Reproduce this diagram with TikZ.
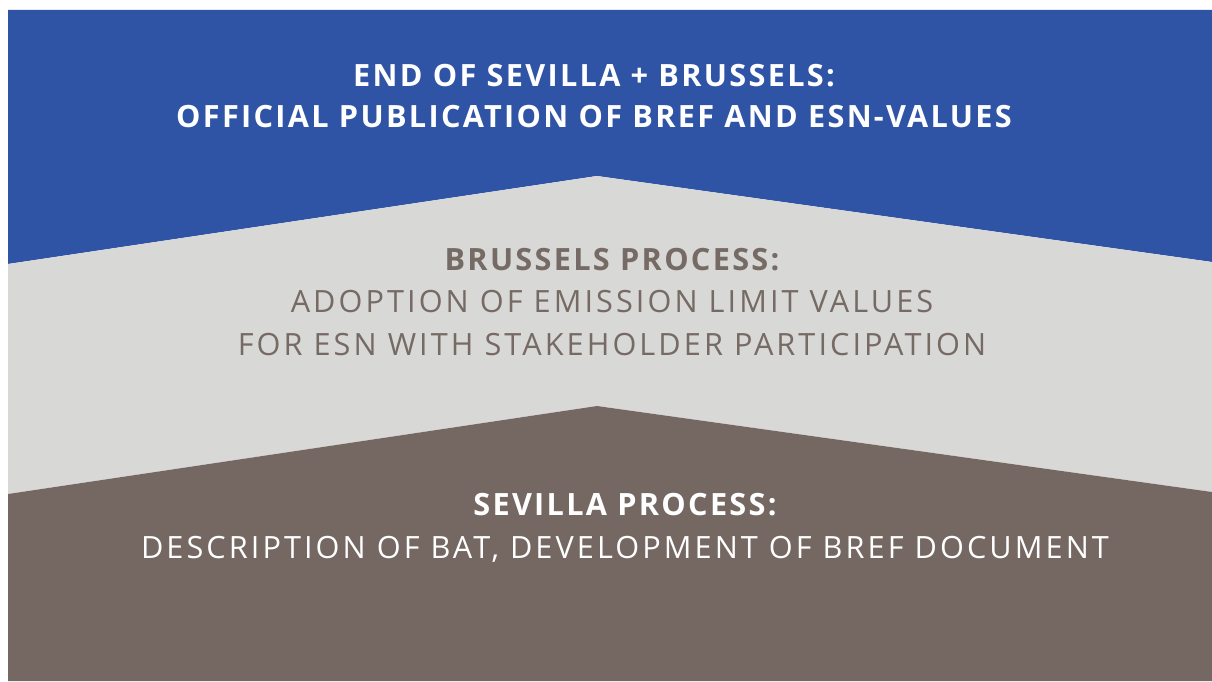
\documentclass[tikz,border=0pt]{standalone}
\usepackage{fontspec}
\setmainfont{Open Sans}[LetterSpace=10,BoldFeatures={LetterSpace=7.5}]
\definecolor{topblue}{HTML}{2F54A5}
\definecolor{midgray}{HTML}{D8D8D6}
\definecolor{lowbrown}{HTML}{756863}
\definecolor{graytext}{HTML}{766A65}
\begin{document}
\begin{tikzpicture}[x=0.75pt,y=-0.75pt,
  lbl/.style={align=center,inner sep=0pt,font=\fontsize{23}{32}\selectfont}]
\useasboundingbox (0,0) rectangle (1212,681);
\fill[white] (0,0) rectangle (1212,681);
\coordinate (tl) at (8,10);
\coordinate (tr) at (1212,10);
\coordinate (bl) at (8,681);
\coordinate (br) at (1212,681);
\coordinate (l1) at (8,264);
\coordinate (p1) at (597,176);
\coordinate (r1) at (1212,262);
\coordinate (l2) at (8,494);
\coordinate (p2) at (597,406);
\coordinate (r2) at (1212,492);
\fill[topblue] (tl) -- (tr) -- (r1) -- (p1) -- (l1) -- cycle;
\fill[midgray] (l1) -- (p1) -- (r1) -- (r2) -- (p2) -- (l2) -- cycle;
\fill[lowbrown] (l2) -- (p2) -- (r2) -- (br) -- (bl) -- cycle;
\node[lbl,text=white,font=\fontsize{23}{30.75}\selectfont\bfseries] (t1) at (594,96) {END OF SEVILLA + BRUSSELS:\\OFFICIAL PUBLICATION OF BREF AND ESN-VALUES};
\node[lbl,text=graytext] (t2) at (612,302) {{\bfseries BRUSSELS PROCESS:}\\ADOPTION OF EMISSION LIMIT VALUES\\FOR ESN WITH STAKEHOLDER PARTICIPATION};
\node[lbl,text=white] (t3) at (625,528) {{\bfseries SEVILLA PROCESS:}\\DESCRIPTION OF BAT, DEVELOPMENT OF BREF DOCUMENT};
\end{tikzpicture}
\end{document}
